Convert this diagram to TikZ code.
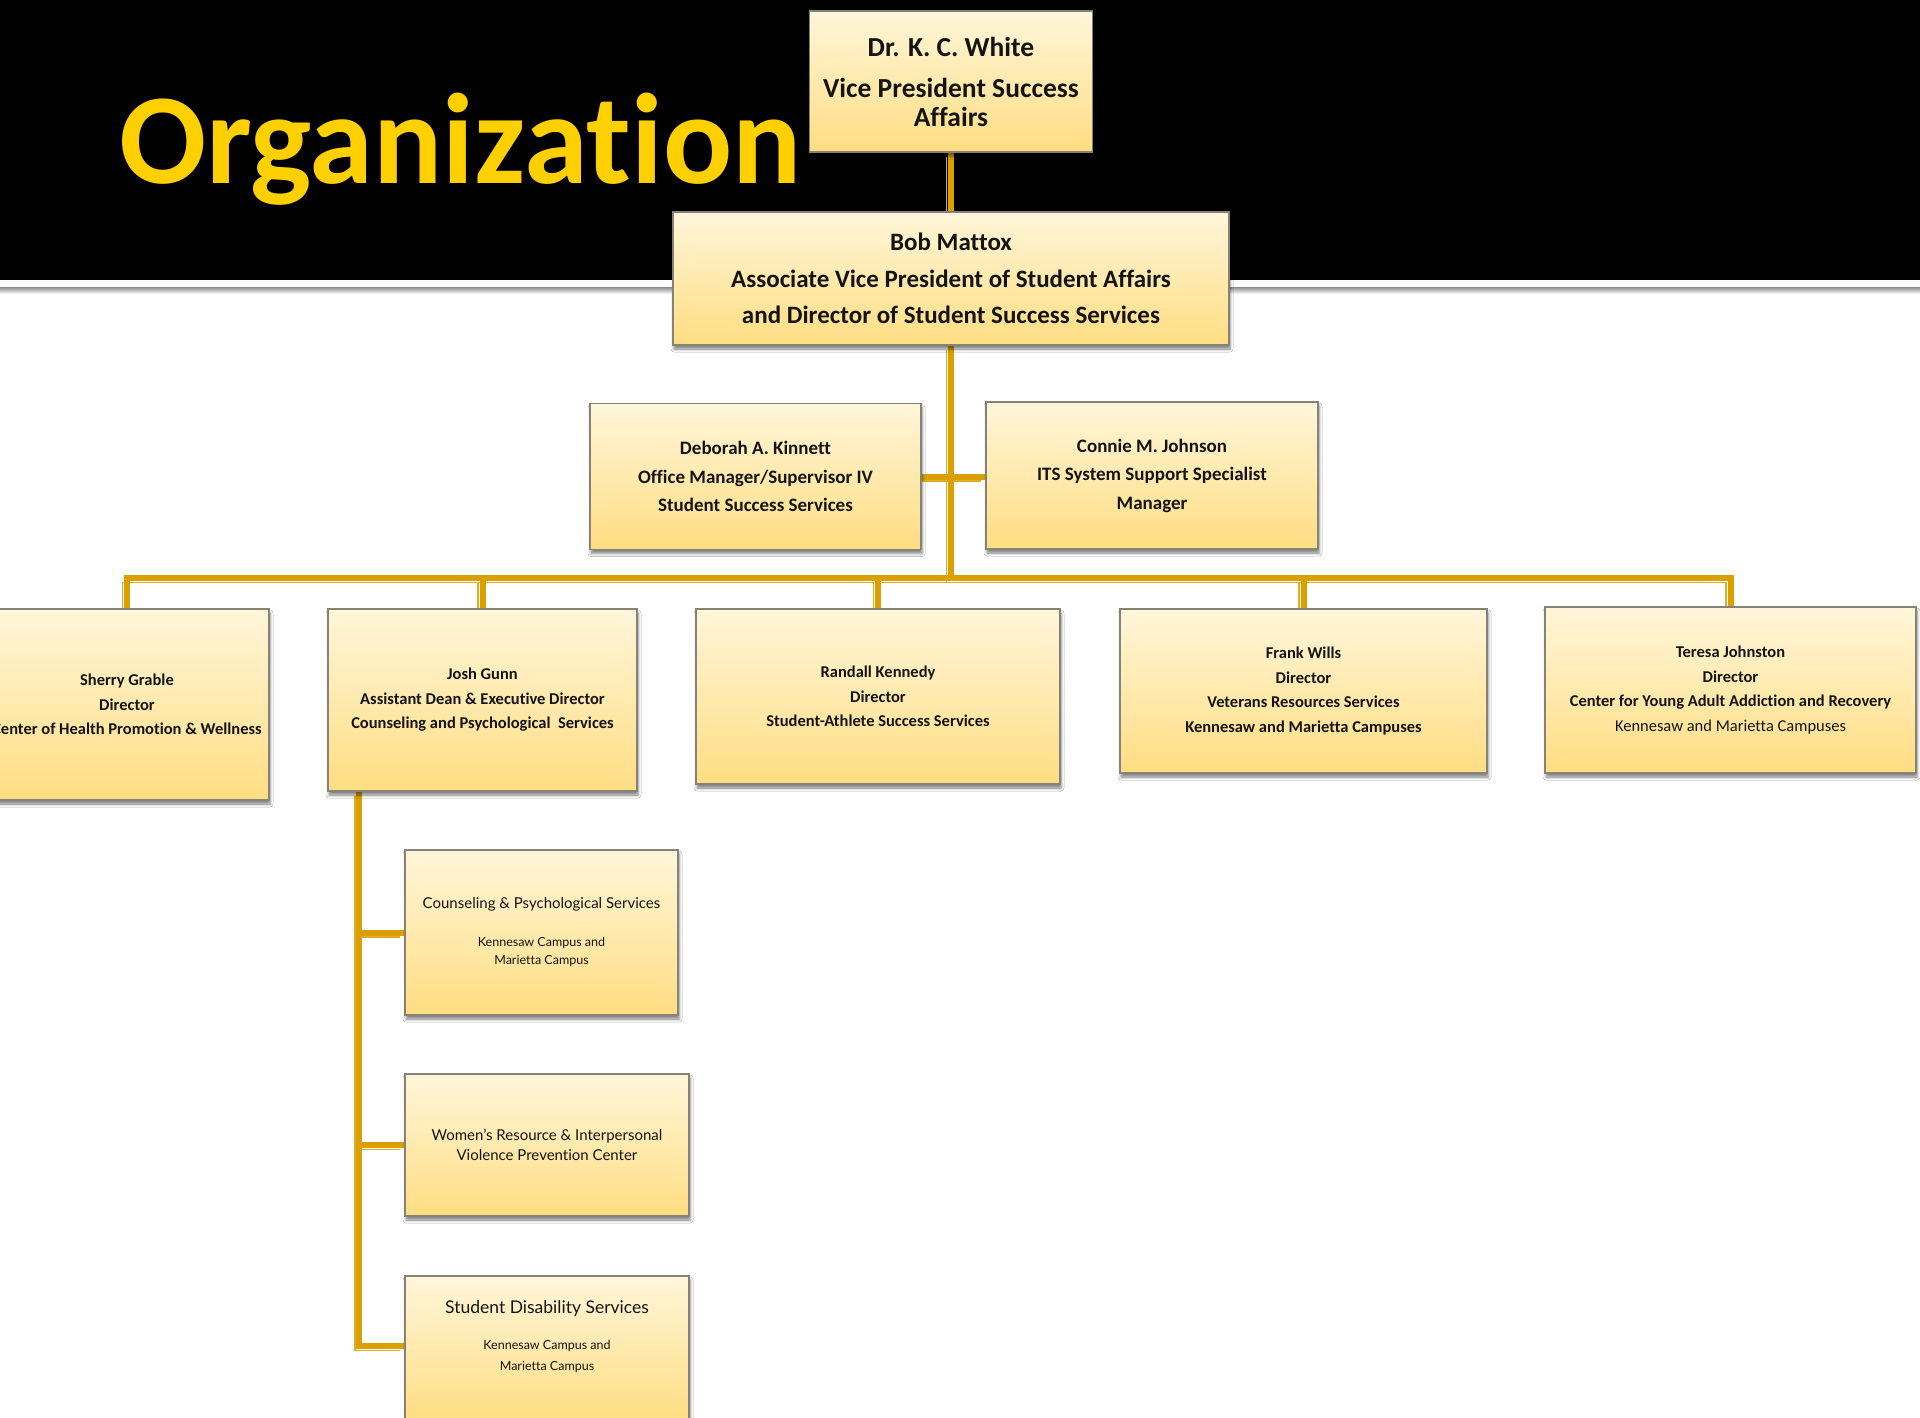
\documentclass[tikz,border=0pt]{standalone}
\usepackage{fontspec}
\setmainfont{Carlito}[Ligatures=NoCommon]
\newfontfamily\subfont{Lato}[Ligatures=NoCommon]
\usetikzlibrary{shadows.blur,calc}
\pgfdeclarelayer{bg}
\pgfsetlayers{bg,main}
\definecolor{gold}{RGB}{218,160,0}
\definecolor{goldthin}{RGB}{226,172,30}
\definecolor{boxtop}{RGB}{255,246,218}
\definecolor{boxbot}{RGB}{255,221,130}
\definecolor{boxline}{RGB}{135,130,120}
\definecolor{titlecol}{RGB}{255,208,0}
\definecolor{titleedge}{RGB}{230,170,0}
\definecolor{txt}{RGB}{20,20,20}
\newcommand\smallsub{\fontsize{12.5}{18}\selectfont}
\tikzset{
  box/.style={draw=boxline, line width=1.2pt, top color=boxtop, bottom color=boxbot,
    align=center, inner sep=0pt, text=txt,
    blur shadow={shadow xshift=1pt, shadow yshift=-4pt, shadow blur radius=3pt, shadow opacity=50}},
  thickconn/.style={draw=gold, line width=6pt},
  thinconn/.style={draw=goldthin, line width=1.5pt},
  lowfont/.style={font=\bfseries\fontsize{16.5}{24.5}\selectfont},
  subtext/.style={align=center, inner sep=0pt, text=txt},
}
\newcommand\allconns[1]{%
  \draw[#1] (white.south) -- (bob.north);
  \draw[#1] (bob.south) -- (bus);
  \draw[#1] (deb.east) -- (deb.east -| con.west);
  \draw[#1] (bus) -| (sherry.north);
  \draw[#1] (bus) -| (josh.north);
  \draw[#1] (bus) -| (randall.north);
  \draw[#1] (bus) -| (frank.north);
  \draw[#1] (bus) -| (teresa.north);
  \draw[#1] ([xshift=32pt]josh.south west) |- (cps.west);
  \draw[#1] ([xshift=32pt]josh.south west) |- (wrc.west);
  \draw[#1] ([xshift=32pt]josh.south west) |- ([yshift=2pt]sds.west);
}
\begin{document}
\begin{tikzpicture}[x=1pt,y=-1pt]
\useasboundingbox (0,0) rectangle (1920,1418);

\node[anchor=base west, inner sep=0pt, text=titlecol,
      font=\bfseries\fontsize{129}{129}\selectfont] (title) at (119,183) {Organization};

\node[box, minimum width=283, minimum height=141, font=\bfseries\fontsize{27.5}{29}\selectfont]
  (white) at (951,81.5) {Dr. K. C. White\\[12pt]Vice President Success\\Affairs};
\node[box, minimum width=556, minimum height=133, font=\bfseries\fontsize{25}{36.5}\selectfont]
  (bob) at (951,278.5) {Bob Mattox\\Associate Vice President of Student Affairs\\and Director of Student Success Services};

\node[box, minimum width=331, minimum height=146, font=\bfseries\fontsize{19}{28.5}\selectfont]
  (deb) at (755.5,476.5) {Deborah A. Kinnett\\Office Manager/Supervisor IV\\Student Success Services};
\node[box, minimum width=332, minimum height=147, font=\bfseries\fontsize{19}{28.5}\selectfont]
  (con) at (1152,475.5) {Connie M. Johnson\\ITS System Support Specialist\\Manager};

\coordinate (bus) at (951,578);

\node[box, lowfont, minimum width=284, minimum height=191] (sherry) at (127,704.5)
  {Sherry Grable\\Director\\Center of Health Promotion \& Wellness};
\node[box, lowfont, minimum width=309, minimum height=182] (josh) at (482.5,700)
  {Josh Gunn\\Assistant Dean \& Executive Director\\Counseling and Psychological~ Services};
\node[box, lowfont, minimum width=364, minimum height=175] (randall) at (878,696.5)
  {Randall Kennedy\\Director\\Student-Athlete Success Services};
\node[box, lowfont, minimum width=367, minimum height=164] (frank) at (1303.5,691)
  {Frank Wills\\Director\\Veterans Resources Services\\Kennesaw and Marietta Campuses};
\node[box, lowfont, minimum width=371, minimum height=166] (teresa) at (1730.5,690)
  {Teresa Johnston\\Director\\Center for Young Adult Addiction and Recovery\\{\mdseries Kennesaw and Marietta Campuses}};

\node[box, minimum width=273, minimum height=165, font=\subfont\fontsize{15}{18}\selectfont]
  (cps) at (541.5,932.5) {Counseling \& Psychological Services\\[20pt]\smallsub Kennesaw Campus and\\\smallsub Marietta Campus};
\node[box, minimum width=284, minimum height=142, font=\subfont\fontsize{15}{20}\selectfont]
  (wrc) at (547,1145) {Women’s Resource \& Interpersonal\\Violence Prevention Center};
\node[box, minimum width=284, minimum height=144] (sds) at (547,1348) {};
\node[subtext, font=\subfont\fontsize{17.5}{18}\selectfont] (sdst) at (547,1337)
  {Student Disability Services\\[18pt]\smallsub Kennesaw Campus and\\[3pt]\smallsub Marietta Campus};

\begin{pgfonlayer}{bg}
  \fill[white] (0,0) rectangle (1920,1418);
  \fill[black] (0,0) rectangle (1920,280);
  \shade[top color=black!45, bottom color=white] (0,287) rectangle (1920,294);
  \begin{scope}[transform canvas={shift={(-4.5pt,-4.5pt)}}]
    \allconns{thinconn}
  \end{scope}
  \allconns{thickconn}
\end{pgfonlayer}
\end{tikzpicture}
\end{document}
